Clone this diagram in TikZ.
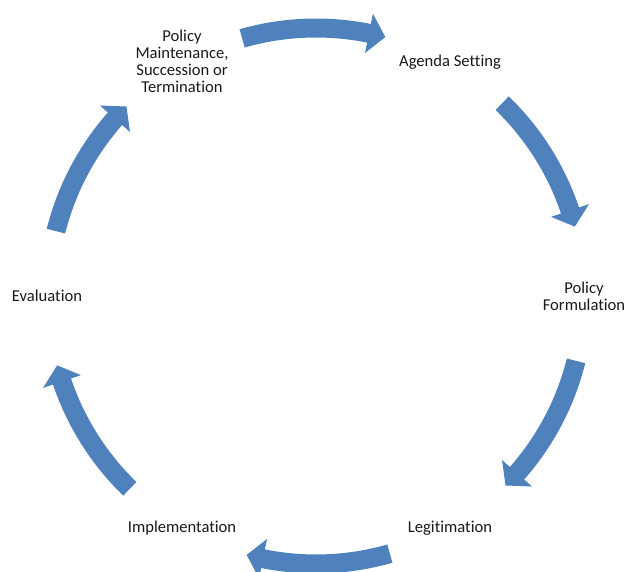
\documentclass[tikz,border=0pt]{standalone}
\usepackage{fontspec}
\setmainfont{Carlito}[Ligatures=NoCommon]
\definecolor{arrowblue}{HTML}{4F81BD}
\newcommand\cyclearrow[2]{%
  \pgfmathsetmacro\hb{#2+3.6}%
  \fill[arrowblue]
    ([shift={(#1:277.5)}]C) arc[start angle=#1, end angle=\hb, radius=277.5]
    -- ([shift={(\hb:288)}]C) -- ([shift={(#2:268)}]C) -- ([shift={(\hb:248)}]C)
    -- ([shift={(\hb:258.5)}]C) arc[start angle=\hb, end angle=#1, radius=258.5]
    -- cycle;}
\begin{document}
\begin{tikzpicture}[x=1pt, y=1pt,
  lbl/.style={font=\fontsize{16.6}{17}\selectfont, align=center, text=black!90, inner sep=0pt}]
\useasboundingbox (0,0) rectangle (624,571);
\clip (0,0) rectangle (624,571);
\coordinate (C) at (316,275);
\node[lbl] (maint) at (182,510) {Policy\\Maintenance,\\Succession or\\Termination};
\node[lbl] (agenda) at (450,509) {Agenda Setting};
\node[lbl] (form) at (584,275) {Policy\\Formulation};
\node[lbl] (legit) at (450,43) {Legitimation};
\node[lbl] (impl) at (182,43) {Implementation};
\node[lbl] (eval) at (47,275) {Evaluation};
\cyclearrow{106}{75}
\cyclearrow{46}{15}
\cyclearrow{-14}{-45}
\cyclearrow{-74}{-105}
\cyclearrow{-134}{-165}
\cyclearrow{166}{135}
\end{tikzpicture}
\end{document}
